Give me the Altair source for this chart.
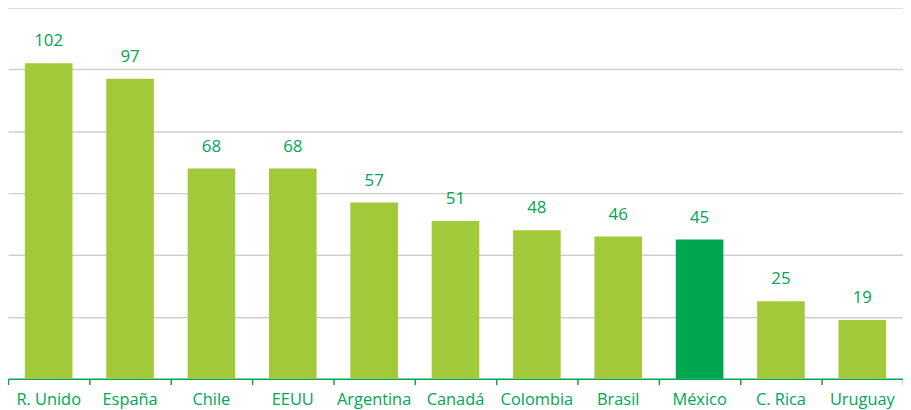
import altair as alt
import pandas as pd

paises = ["R. Unido", "España", "Chile", "EEUU", "Argentina", "Canadá",
          "Colombia", "Brasil", "México", "C. Rica", "Uruguay"]
valores = [102, 97, 68, 68, 57, 51, 48, 46, 45, 25, 19]
destacado = [p == "México" for p in paises]

df = pd.DataFrame({"pais": paises, "valor": valores, "destacado": destacado})

W, H = 902, 374
LIGHT = "#A2C93A"
DARK = "#00A651"
FONT = "Open Sans"

x = alt.X("pais:N", sort=paises, title=None,
          scale=alt.Scale(paddingInner=0, paddingOuter=0),
          axis=alt.Axis(bandPosition=1, tickExtra=True,
                        labelAngle=0, labelFont=FONT, labelFontSize=16.5,
                        labelColor=DARK, labelPadding=7,
                        domainColor=DARK, domainWidth=1.5,
                        tickColor=DARK, tickWidth=1.5, tickSize=6,
                        grid=False))
y = alt.Y("valor:Q", title=None,
          scale=alt.Scale(domain=[0, 120], nice=False),
          axis=alt.Axis(values=[20, 40, 60, 80, 100, 120], labels=False,
                        ticks=False, domain=False, grid=True,
                        gridColor="#CFCFCF", gridWidth=1.5))

bars = alt.Chart(df).mark_bar(width=alt.RelativeBandSize(0.585)).encode(
    x=x, y=y,
    color=alt.Color("destacado:N", scale=alt.Scale(domain=[False, True],
                    range=[LIGHT, DARK]), legend=None),
)
labels = alt.Chart(df).mark_text(baseline="bottom", dy=-13, font=FONT,
                                 fontSize=17, color=DARK).encode(
    x=alt.X("pais:N", sort=paises), y="valor:Q", text="valor:Q")

chart = (bars + labels).properties(
    width=W, height=H,
    autosize=alt.AutoSizeParams(type="none"),
    padding={"left": 0, "top": -2, "right": 0, "bottom": 30},
).configure_view(stroke=None)

chart.save("out.html", embed_options={"renderer": "svg", "actions": False})
